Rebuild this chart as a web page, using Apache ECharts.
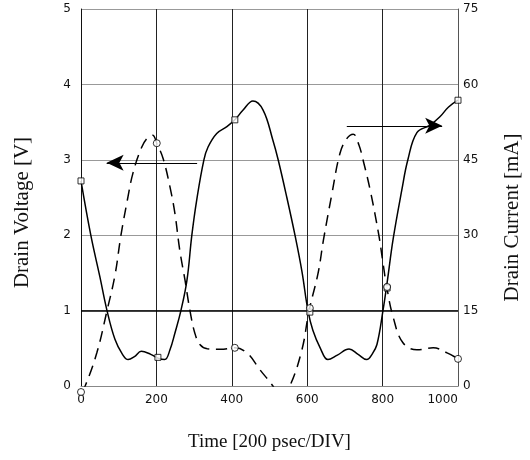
<!DOCTYPE html>
<html>
<head>
<meta charset="utf-8">
<script src="https://cdn.jsdelivr.net/npm/echarts@6/dist/echarts.min.js"></script>
<style>
  html, body { margin: 0; padding: 0; background: #fff; }
  #chart { width: 530px; height: 460px; }
</style>
</head>
<body>
<div id="chart"></div>
<script>
// time [ps] / drain voltage [V]
var voltTime = [0, 26, 50, 69, 90, 110, 125, 142, 160, 185, 204, 222, 236, 249, 265, 281, 294, 307, 326, 337, 360, 387, 408, 430, 456, 483, 509, 523, 546, 568, 586, 602, 615, 635, 655, 680, 711, 735, 758, 772, 785, 801, 812, 828, 851, 867, 891, 926, 952, 975, 1000];
var voltVals = [2.72, 2.0, 1.45, 1.0, 0.62, 0.42, 0.35, 0.39, 0.46, 0.42, 0.37, 0.35, 0.48, 0.7, 1.0, 1.4, 2.0, 2.47, 3.0, 3.17, 3.35, 3.44, 3.53, 3.66, 3.78, 3.66, 3.26, 3.0, 2.5, 1.99, 1.52, 1.0, 0.74, 0.5, 0.35, 0.41, 0.49, 0.42, 0.35, 0.42, 0.55, 1.0, 1.37, 1.95, 2.6, 3.0, 3.36, 3.46, 3.57, 3.7, 3.79];

// time [ps] / drain current [mA]
var currTime = [0, 11, 42, 69, 90, 106, 123, 138, 161, 178, 190, 201, 218, 236, 249, 262, 276, 289, 302, 316, 335, 370, 408, 440, 475, 509, 530, 554, 586, 605, 629, 643, 665, 687, 705, 722, 737, 748, 767, 790, 800, 811, 828, 854, 891, 934, 971, 1000];
var currVals = [-1.2, 0, 6.6, 15, 22, 30, 37, 42.4, 47.5, 49.5, 49.9, 48.3, 45.2, 39.6, 34.4, 27, 21, 15, 10.5, 8.2, 7.4, 7.3, 7.6, 6.6, 3.2, 0, -2.5, 0, 7.2, 15, 22.5, 29, 38, 46.3, 49.2, 50.1, 48, 45, 39, 30, 25, 19.7, 13.7, 8.6, 7.2, 7.6, 6.6, 5.4];

// sample markers
var voltMarks = [[0, 2.72], [204, 0.38], [408, 3.53], [607, 0.98], [812, 1.3], [1000, 3.79]];
var currMarks = [[0, -1.2], [201, 48.3], [408, 7.6], [607, 15.5], [812, 19.7], [1000, 5.4]];

// arrows pointing to the axis each curve belongs to: [fromT, toT, V]
var arrows = [[308, 68, 2.96], [705, 958, 3.45]];

var xTicks = [0, 200, 400, 600, 800, 1000];

function pairs(xs, ys) {
  return xs.map(function(x, i) { return [x, ys[i]]; });
}

var myChart = echarts.init(document.getElementById('chart'));
var tickFont = { fontFamily: 'DejaVu Sans', fontSize: 12, color: '#111' };
var nameFontX = { fontFamily: 'Liberation Serif', fontSize: 19, color: '#111' };

option = {
  animation: false,
  grid: { left: 81, right: 72, top: 9, bottom: 74, outerBoundsMode: 'none' },
  xAxis: {
    type: 'value',
    min: xTicks[0],
    max: xTicks[xTicks.length - 1],
    interval: 200,
    name: 'Time [200 psec/DIV]',
    nameLocation: 'middle',
    nameGap: 47,
    nameTextStyle: nameFontX,
    axisLine: { lineStyle: { color: '#888', width: 1 } },
    axisTick: { show: false },
    axisLabel: Object.assign({
      margin: 8,
      alignMaxLabel: 'right',
      formatter: function(v) { return String(v); }
    }, tickFont),
    splitLine: { show: true, lineStyle: { color: '#222', width: 1 } }
  },
  yAxis: [{
    type: 'value',
    min: 0,
    max: 5,
    interval: 1,
    name: 'Drain Voltage [V]',
    nameLocation: 'middle',
    nameGap: 48,
    nameRotate: 90,
    nameTextStyle: {
      fontFamily: 'Liberation Serif', fontSize: 21, color: '#111',
      padding: [0, 30, 0, 0]
    },
    axisLine: { show: true, lineStyle: { color: '#111', width: 1 } },
    axisTick: { show: false },
    axisLabel: Object.assign({ margin: 10 }, tickFont),
    splitLine: { show: true, lineStyle: { color: '#999', width: 1 } }
  }, {
    type: 'value',
    position: 'right',
    min: 0,
    max: 75,
    interval: 15,
    name: 'Drain Current [mA]',
    nameLocation: 'middle',
    nameGap: 44,
    nameRotate: 90,
    nameTextStyle: {
      fontFamily: 'Liberation Serif', fontSize: 21, color: '#111',
      padding: [0, 40, 0, 0]
    },
    axisLine: { show: true, lineStyle: { color: '#555', width: 1 } },
    axisTick: { show: false },
    axisLabel: Object.assign({ margin: 5 }, tickFont),
    splitLine: { show: false }
  }],
  series: [{
    name: 'Drain Voltage',
    type: 'line',
    data: pairs(voltTime, voltVals),
    smooth: 0.4,
    showSymbol: false,
    lineStyle: { color: '#000', width: 1.5 },
    markLine: {
      silent: true,
      symbol: ['none', 'none'],
      label: { show: false },
      lineStyle: { color: '#000', width: 1.6, type: 'solid' },
      data: [{ yAxis: 1 }]
    },
    z: 3
  }, {
    name: 'Drain Current',
    type: 'line',
    yAxisIndex: 1,
    data: pairs(currTime, currVals),
    smooth: 0.4,
    showSymbol: false,
    lineStyle: { color: '#000', width: 1.5, type: [11, 7] },
    z: 3
  }, {
    name: 'arrows',
    type: 'line',
    data: [],
    markLine: {
      silent: true,
      symbol: ['none', 'arrow'],
      symbolSize: [12, 17],
      label: { show: false },
      lineStyle: { color: '#000', width: 1, type: 'solid' },
      itemStyle: { color: '#000' },
      data: arrows.map(function(a) {
        return [{ coord: [a[0], a[2]] }, { coord: [a[1], a[2]] }];
      })
    }
  }, {
    name: 'voltage samples',
    type: 'scatter',
    data: voltMarks,
    symbol: 'rect',
    symbolSize: 6,
    clip: false,
    itemStyle: { color: '#fff', borderColor: '#000', borderWidth: 1 },
    z: 5
  }, {
    name: 'current samples',
    type: 'scatter',
    yAxisIndex: 1,
    data: currMarks,
    symbol: 'circle',
    symbolSize: 7,
    clip: false,
    itemStyle: { color: '#fff', borderColor: '#000', borderWidth: 1 },
    z: 5
  }]
};
myChart.setOption(option);
</script>
</body>
</html>
